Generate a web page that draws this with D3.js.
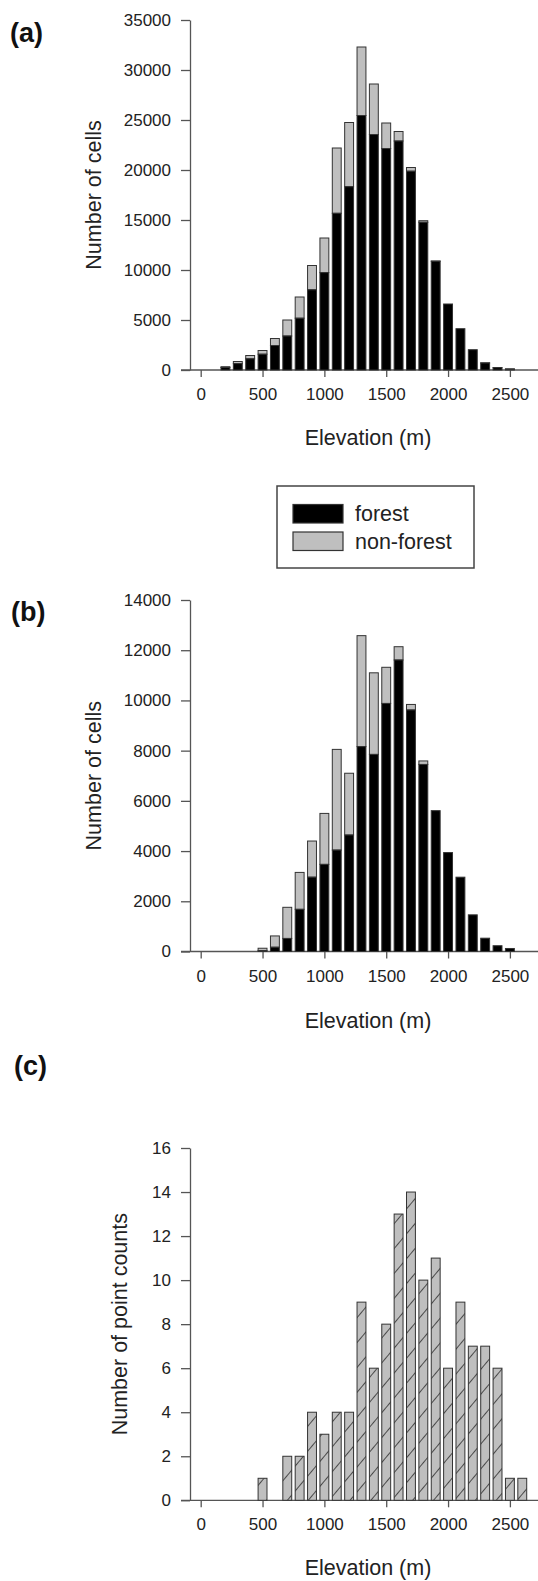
<!DOCTYPE html>
<html>
<head>
<meta charset="utf-8">
<script src="https://cdn.jsdelivr.net/npm/d3@7"></script>
<style>
  body { margin: 0; background: #fff; }
  svg { display: block; font-family: "Liberation Sans", Arial, sans-serif; }
</style>
</head>
<body>
<div id="chart"></div>
<script>

// elevation bins (m), bar centres
var elevA = [200, 300, 400, 500, 600, 700, 800, 900, 1000, 1100, 1200, 1300, 1400, 1500, 1600, 1700, 1800, 1900, 2000, 2100, 2200, 2300, 2400, 2500];
var totalA = [330, 850, 1450, 1950, 3150, 5000, 7300, 10450, 13200, 22200, 24750, 32300, 28600, 24700, 23850, 20250, 14930, 10900, 6600, 4130, 2030, 720, 240, 110];
var forestA = [250, 640, 1120, 1580, 2450, 3400, 5180, 8020, 9740, 15670, 18330, 25450, 23550, 22150, 22900, 19880, 14770, 10880, 6600, 4130, 2030, 700, 230, 100];

var elevB = [500, 600, 700, 800, 900, 1000, 1100, 1200, 1300, 1400, 1500, 1600, 1700, 1800, 1900, 2000, 2100, 2200, 2300, 2400, 2500];
var totalB = [130, 620, 1760, 3150, 4400, 5500, 8050, 7100, 12580, 11100, 11320, 12140, 9840, 7590, 5610, 3940, 2960, 1460, 530, 230, 120];
var forestB = [40, 170, 520, 1680, 2960, 3470, 4040, 4640, 8160, 7850, 9880, 11610, 9620, 7450, 5610, 3940, 2960, 1460, 530, 230, 120];

var elevC = [500, 700, 800, 900, 1000, 1100, 1200, 1300, 1400, 1500, 1600, 1700, 1800, 1900, 2000, 2100, 2200, 2300, 2400, 2500, 2600];
var countsC = [1, 2, 2, 4, 3, 4, 4, 9, 6, 8, 13, 14, 10, 11, 6, 9, 7, 7, 6, 1, 1];

var xTicks = [0, 500, 1000, 1500, 2000, 2500];
var legendLabels = ["forest", "non-forest"];

var W = 538, H = 1581;
var INK = "#222", AXIS = "#555", GREY = "#bfbfbf", EDGE = "#333";

var svg = d3.select("#chart").append("svg")
    .attr("width", W)
    .attr("height", H);

// hatch for panel (c)
var defs = svg.append("defs");
defs.append("pattern")
    .attr("id", "hatch")
    .attr("patternUnits", "userSpaceOnUse")
    .attr("width", 16)
    .attr("height", 16)
    .attr("patternTransform", "rotate(40)")
  .append("line")
    .attr("x1", 0).attr("y1", 0)
    .attr("x2", 0).attr("y2", 16)
    .attr("stroke", "#222")
    .attr("stroke-width", 1.5);

var x = d3.scaleLinear()
    .domain([0, 2500])
    .range([200.7, 509.9]);

var barW = 8.9;
var fmt = d3.format("d");

function panel(opt) {
    var y = d3.scaleLinear()
        .domain([0, opt.yMax])
        .range([opt.y0, opt.y1]);

    var g = svg.append("g");

    // y axis
    var yAxis = d3.axisLeft(y)
        .tickValues(d3.range(0, opt.yMax + 1, opt.yStep))
        .tickFormat(fmt)
        .tickSize(9)
        .tickPadding(10)
        .tickSizeOuter(0);
    var ya = g.append("g")
        .attr("transform", "translate(190,0)")
        .call(yAxis);
    ya.select(".domain").attr("stroke", AXIS).attr("stroke-width", 1.3);
    ya.selectAll(".tick line").attr("stroke", AXIS).attr("stroke-width", 1.3);
    ya.selectAll(".tick text")
        .attr("fill", INK)
        .style("font-size", "17px")
        .style("font-family", "Liberation Sans, Arial, sans-serif");

    // x axis (ticks only, base line drawn separately)
    var xAxis = d3.axisBottom(x)
        .tickValues(xTicks)
        .tickFormat(fmt)
        .tickSize(7)
        .tickPadding(11)
        .tickSizeOuter(0);
    var xa = g.append("g")
        .attr("transform", "translate(0," + opt.y0 + ")")
        .call(xAxis);
    xa.select(".domain").remove();
    xa.selectAll(".tick line").attr("stroke", AXIS).attr("stroke-width", 1.3);
    xa.selectAll(".tick text")
        .attr("fill", INK)
        .style("font-size", "17px")
        .style("font-family", "Liberation Sans, Arial, sans-serif");

    g.append("line")
        .attr("x1", 181).attr("x2", W)
        .attr("y1", opt.y0).attr("y2", opt.y0)
        .attr("stroke", AXIS)
        .attr("stroke-width", 1.3);

    opt.bars(g, y);

    // titles
    g.append("text")
        .attr("transform", "translate(" + opt.ytx + "," + (opt.y0 + opt.y1) / 2 + ") rotate(-90)")
        .attr("text-anchor", "middle")
        .attr("fill", INK)
        .style("font-size", "21.5px")
        .text(opt.ylab);

    g.append("text")
        .attr("x", 368)
        .attr("y", opt.xty)
        .attr("text-anchor", "middle")
        .attr("fill", INK)
        .style("font-size", "21.5px")
        .text("Elevation (m)");

    g.append("text")
        .attr("x", opt.lx)
        .attr("y", opt.ly)
        .attr("fill", "#111")
        .style("font-size", "27px")
        .style("font-weight", "bold")
        .text(opt.label);
}

function stacked(elev, total, forest) {
    return function(g, y) {
        var rows = elev.map(function(e, i) {
            return {e: e, total: total[i], forest: forest[i]};
        });
        g.selectAll(".nf").data(rows).enter().append("rect")
            .attr("x", function(d) { return x(d.e) - barW / 2; })
            .attr("y", function(d) { return y(d.total); })
            .attr("width", barW)
            .attr("height", function(d) { return y(d.forest) - y(d.total); })
            .attr("fill", GREY)
            .attr("stroke", EDGE)
            .attr("stroke-width", 1);
        g.selectAll(".f").data(rows).enter().append("rect")
            .attr("x", function(d) { return x(d.e) - barW / 2; })
            .attr("y", function(d) { return y(d.forest); })
            .attr("width", barW)
            .attr("height", function(d) { return y(0) - y(d.forest); })
            .attr("fill", "#000")
            .attr("stroke", EDGE)
            .attr("stroke-width", 1);
    };
}

function hatched(g, y) {
    var rows = elevC.map(function(e, i) { return {e: e, n: countsC[i]}; });
    [GREY, "url(#hatch)"].forEach(function(fill, k) {
        g.selectAll(".c" + k).data(rows).enter().append("rect")
            .attr("x", function(d) { return x(d.e) - barW / 2; })
            .attr("y", function(d) { return y(d.n); })
            .attr("width", barW)
            .attr("height", function(d) { return y(0) - y(d.n); })
            .attr("fill", fill)
            .attr("stroke", k ? EDGE : "none")
            .attr("stroke-width", 1);
    });
}

panel({y0: 370, y1: 20, yMax: 35000, yStep: 5000, ylab: "Number of cells", ytx: 100.5,
       xty: 445, label: "(a)", lx: 10, ly: 42, bars: stacked(elevA, totalA, forestA)});
panel({y0: 951.5, y1: 600, yMax: 14000, yStep: 2000, ylab: "Number of cells", ytx: 101,
       xty: 1028, label: "(b)", lx: 11, ly: 621, bars: stacked(elevB, totalB, forestB)});
panel({y0: 1500.3, y1: 1148, yMax: 16, yStep: 2, ylab: "Number of point counts", ytx: 127,
       xty: 1575, label: "(c)", lx: 14, ly: 1075, bars: hatched});

// legend
var leg = svg.append("g");
leg.append("rect")
    .attr("x", 277).attr("y", 486)
    .attr("width", 197).attr("height", 82)
    .attr("fill", "none")
    .attr("stroke", "#444")
    .attr("stroke-width", 1.5);
leg.selectAll(".sw").data(legendLabels).enter().append("rect")
    .attr("x", 293)
    .attr("y", function(d, i) { return 504.5 + i * 27.5; })
    .attr("width", 50).attr("height", 18.5)
    .attr("fill", function(d, i) { return i ? GREY : "#000"; })
    .attr("stroke", EDGE)
    .attr("stroke-width", 1.2);
leg.selectAll(".lt").data(legendLabels).enter().append("text")
    .attr("x", 355)
    .attr("y", function(d, i) { return 521 + i * 27.5; })
    .attr("fill", INK)
    .style("font-size", "21.5px")
    .text(function(d) { return d; });

</script>
</body>
</html>
